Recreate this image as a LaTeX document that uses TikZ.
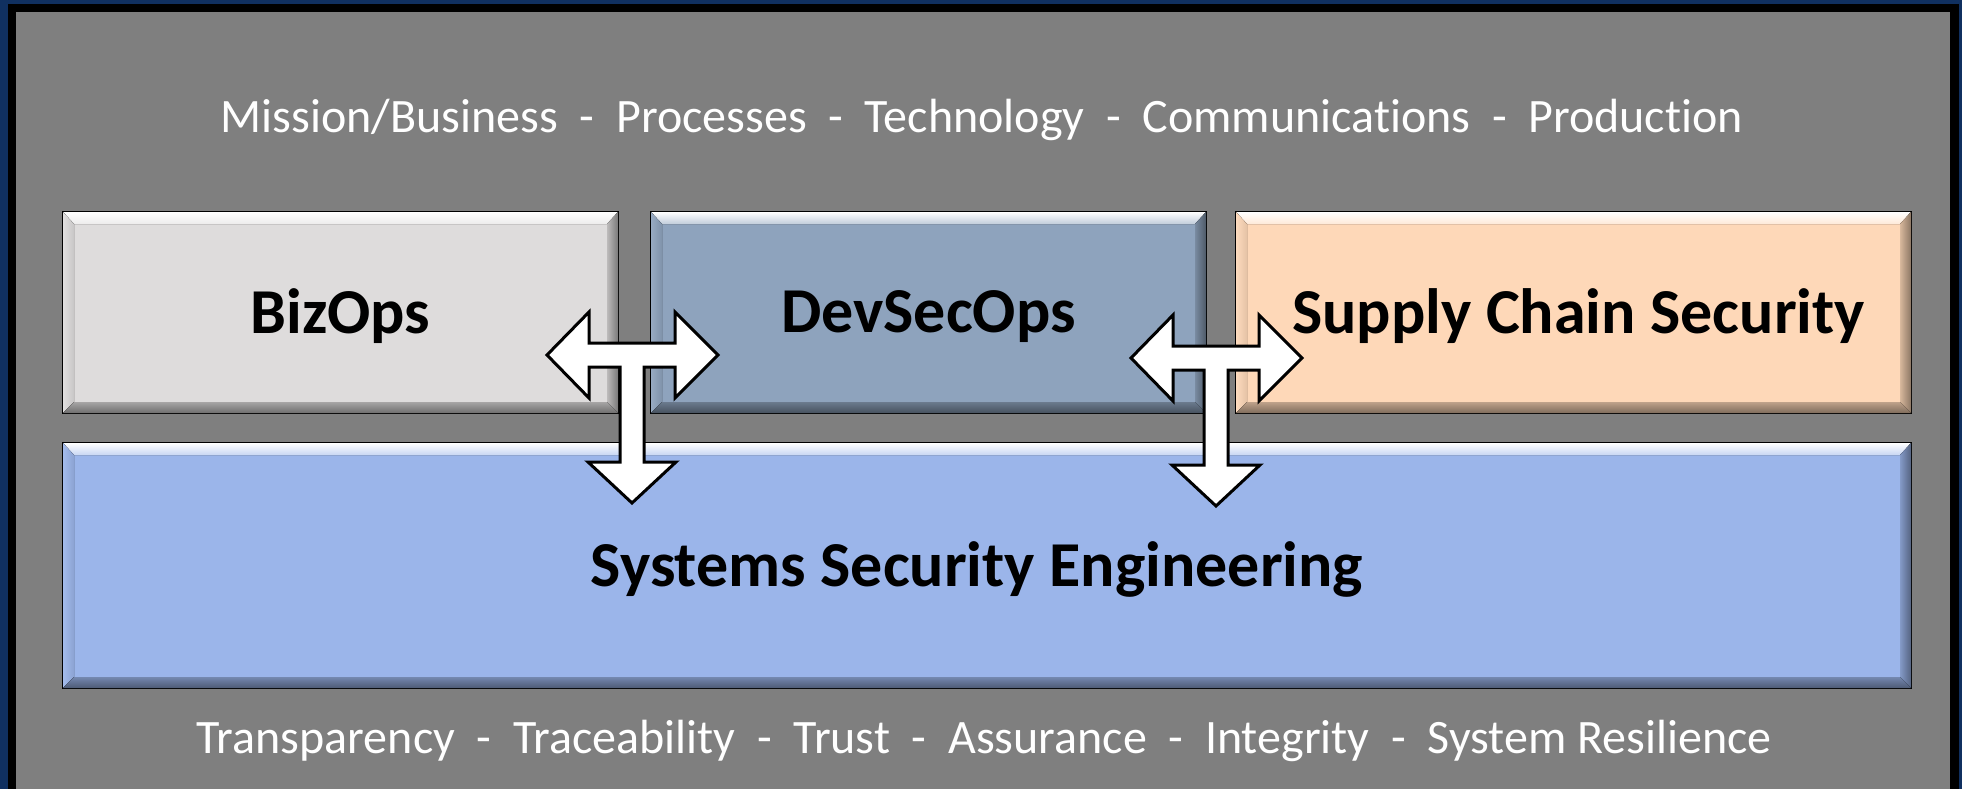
\documentclass[tikz,border=0pt]{standalone}
\usepackage{fontspec}
\setmainfont{Carlito}[Ligatures=NoCommon]
\usetikzlibrary{calc}

\definecolor{navy}{RGB}{16,48,96}
\definecolor{slate}{RGB}{127,127,127}
\definecolor{bizgrey}{RGB}{222,220,220}
\definecolor{devblue}{RGB}{142,163,189}
\definecolor{peach}{RGB}{254,216,184}
\definecolor{sseblue}{RGB}{155,181,234}

\tikzset{
  block/.style={draw=black, line width=2pt, fill=#1, inner sep=0pt,
    anchor=north west},
  title/.style={font=\fontsize{64}{76}\selectfont\bfseries},
  topic/.style={text=white, font=\fontsize{48}{58}\selectfont},
  tarrow/.style={draw=black, line width=3pt, fill=white, line join=miter},
}

% raised edge of a box, #1 node, #2 colour
\newcommand{\bevel}[2]{
  \fill[top color=white, bottom color=#2!55!white]
    ($(#1.north west)+(1,1)$) -- ($(#1.north east)+(-1,1)$)
    -- ($(#1.north east)+(-12,13)$) -- ($(#1.north west)+(12,13)$) -- cycle;
  \fill[left color=#2!92!white, right color=#2!90!black]
    ($(#1.north west)+(1,1)$) -- ($(#1.north west)+(12,13)$)
    -- ($(#1.south west)+(12,-12)$) -- ($(#1.south west)+(1,-1)$) -- cycle;
  \fill[left color=#2!85!black, right color=#2!55!black]
    ($(#1.north east)+(-1,1)$) -- ($(#1.south east)+(-1,-1)$)
    -- ($(#1.south east)+(-12,-12)$) -- ($(#1.north east)+(-12,13)$) -- cycle;
  \fill[top color=#2!75!black, bottom color=#2!50!black]
    ($(#1.south west)+(1,-1)$) -- ($(#1.south east)+(-1,-1)$)
    -- ($(#1.south east)+(-12,-12)$) -- ($(#1.south west)+(12,-12)$) -- cycle;
}

% T shaped arrow round a junction
\newcommand{\teearrow}[1]{
  \draw[tarrow, shift={(#1)}] (-85,0) -- (-43,-43) -- (-43,-12) -- (43,-12)
    -- (43,-43) -- (86,0) -- (43,43) -- (43,12) -- (12,12) -- (12,107)
    -- (44,107) -- (0,148) -- (-44,107) -- (-12,107) -- (-12,12)
    -- (-43,12) -- (-43,43) -- cycle;
}

\newcommand{\sepdash}{\ \ -\ \ }

\begin{document}
\begin{tikzpicture}[x=1pt, y=-1pt]
  \useasboundingbox (0,0) rectangle (1962,789);
  % frame
  \fill[navy] (0,0) rectangle (1962,789);
  \fill[black] (8,4) rectangle (1959,789);
  \fill[slate] (16,12) rectangle (1950,789);

  \node[topic] (mission) at (982,120)
    {Mission/Business\sepdash Processes\sepdash Technology\sepdash Communications\sepdash Production};
  \node[topic] (values) at (984,741)
    {Transparency\sepdash Traceability\sepdash Trust\sepdash Assurance\sepdash Integrity\sepdash System Resilience};

  % boxes
  \node[block=bizgrey, minimum width=555pt, minimum height=201pt] (bizops) at (62,211) {};
  \node[block=devblue, minimum width=555pt, minimum height=201pt] (devsecops) at (650,211) {};
  \node[block=peach, minimum width=675pt, minimum height=201pt] (supply) at (1235,211) {};
  \node[block=sseblue, minimum width=1848pt, minimum height=245pt] (sse) at (62,442) {};
  \bevel{bizops}{bizgrey}
  \bevel{devsecops}{devblue}
  \bevel{supply}{peach}
  \bevel{sse}{sseblue}

  \node[title] (bizopsT) at ($(bizops.center)+(0,4)$) {BizOps};
  \node[title] (devsecopsT) at ($(devsecops.center)+(0,4)$) {DevSecOps};
  \node[title] (supplyT) at ($(supply.center)+(5,4)$) {Supply Chain Security};
  \node[title] (sseT) at ($(sse.center)+(-10,4)$) {Systems Security Engineering};

  % arrows
  \coordinate (jA) at (632,355);
  \coordinate (jB) at (1216,358);
  \teearrow{jA}
  \teearrow{jB}
\end{tikzpicture}
\end{document}
